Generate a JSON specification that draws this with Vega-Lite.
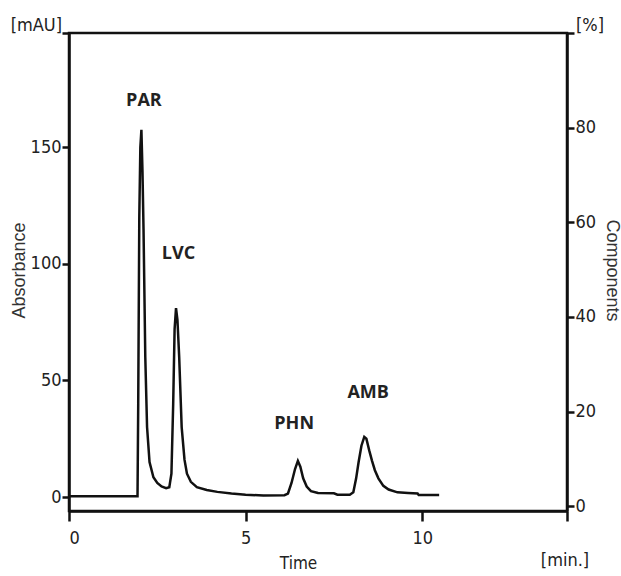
{
  "$schema": "https://vega.github.io/schema/vega-lite/v6.json",
  "width": 498,
  "height": 478,
  "autosize": "none",
  "padding": {"left": 69, "top": 33, "right": 54, "bottom": 65},
  "background": "white",
  "config": {
    "view": {"stroke": "#111", "strokeWidth": 2.5},
    "axis": {
      "grid": false,
      "domainColor": "#111",
      "domainWidth": 2.5,
      "tickColor": "#111",
      "tickWidth": 2.5,
      "labelColor": "#222",
      "labelFont": "DejaVu Sans Condensed, sans-serif",
      "labelFontSize": 18,
      "titleColor": "#333",
      "titleFont": "Liberation Sans, Arial, sans-serif",
      "titleFontWeight": "normal"
    }
  },
  "datasets": {
    "trace": [
      {"time": 0, "absorbance": 0.3},
      {"time": 1.94, "absorbance": 0.3},
      {"time": 1.96, "absorbance": 40},
      {"time": 1.99, "absorbance": 120},
      {"time": 2.02, "absorbance": 150},
      {"time": 2.05, "absorbance": 157.5},
      {"time": 2.08, "absorbance": 140},
      {"time": 2.11, "absorbance": 115},
      {"time": 2.16, "absorbance": 60},
      {"time": 2.21, "absorbance": 30},
      {"time": 2.28, "absorbance": 15},
      {"time": 2.39, "absorbance": 8.5},
      {"time": 2.5, "absorbance": 6},
      {"time": 2.62, "absorbance": 4.5},
      {"time": 2.75, "absorbance": 3.8},
      {"time": 2.84, "absorbance": 4.2},
      {"time": 2.9, "absorbance": 10},
      {"time": 2.95, "absorbance": 40},
      {"time": 2.99, "absorbance": 72},
      {"time": 3.03, "absorbance": 81},
      {"time": 3.07, "absorbance": 76},
      {"time": 3.12, "absorbance": 60},
      {"time": 3.19, "absorbance": 30},
      {"time": 3.27, "absorbance": 16},
      {"time": 3.34, "absorbance": 10},
      {"time": 3.45, "absorbance": 6.5},
      {"time": 3.62, "absorbance": 4.2},
      {"time": 3.9, "absorbance": 3},
      {"time": 4.2, "absorbance": 2.2},
      {"time": 4.6, "absorbance": 1.5},
      {"time": 5.0, "absorbance": 1},
      {"time": 5.5, "absorbance": 0.6},
      {"time": 6.1, "absorbance": 0.8},
      {"time": 6.2, "absorbance": 1.5},
      {"time": 6.3, "absorbance": 6},
      {"time": 6.4, "absorbance": 12},
      {"time": 6.48, "absorbance": 15.5},
      {"time": 6.55, "absorbance": 13},
      {"time": 6.63, "absorbance": 8},
      {"time": 6.73, "absorbance": 4.5},
      {"time": 6.85, "absorbance": 2.5},
      {"time": 7.05, "absorbance": 1.7},
      {"time": 7.5, "absorbance": 1.6},
      {"time": 7.6, "absorbance": 1.0},
      {"time": 7.95, "absorbance": 1.0},
      {"time": 8.05, "absorbance": 2},
      {"time": 8.13, "absorbance": 8},
      {"time": 8.2, "absorbance": 15},
      {"time": 8.28, "absorbance": 22},
      {"time": 8.36, "absorbance": 25.8},
      {"time": 8.42, "absorbance": 25},
      {"time": 8.5, "absorbance": 20},
      {"time": 8.58, "absorbance": 15.5},
      {"time": 8.66, "absorbance": 11.5},
      {"time": 8.76, "absorbance": 8},
      {"time": 8.9, "absorbance": 4.8},
      {"time": 9.05, "absorbance": 3.2},
      {"time": 9.3, "absorbance": 2},
      {"time": 9.6, "absorbance": 1.7},
      {"time": 9.87, "absorbance": 1.5},
      {"time": 9.9, "absorbance": 0.9},
      {"time": 10.48, "absorbance": 0.9}
    ],
    "peaks": [
      {"time": 2.12, "absorbance": 170, "label": "PAR"},
      {"time": 3.1, "absorbance": 104.3, "label": "LVC"},
      {"time": 6.375, "absorbance": 31.5, "label": "PHN"},
      {"time": 8.47, "absorbance": 44.8, "label": "AMB"}
    ]
  },
  "layer": [
    {
      "layer": [
        {
          "data": {"name": "trace"},
          "mark": {"type": "line", "color": "#111", "strokeWidth": 2.5},
          "encoding": {
            "x": {
              "field": "time",
              "type": "quantitative",
              "scale": {"domain": [0, 14.1], "nice": false, "zero": false},
              "axis": {
                "values": [0, 5, 10, 14.1],
                "labelExpr": "datum.value > 12 ? '' : datum.label",
                "tickSize": 10,
                "labelPadding": 8,
                "title": "Time",
                "titleFont": "DejaVu Sans Condensed, sans-serif",
                "titleFontSize": 17,
                "titleColor": "#222",
                "titleX": 229,
                "titleY": 57,
                "titleBaseline": "alphabetic",
                "titleAnchor": "middle"
              }
            },
            "y": {
              "field": "absorbance",
              "type": "quantitative",
              "scale": {"domain": [-6, 199], "nice": false, "zero": false},
              "axis": {
                "orient": "left",
                "values": [0, 50, 100, 150, 199],
                "labelExpr": "datum.value > 160 ? '' : datum.label",
                "tickSize": 7,
                "labelPadding": 1,
                "title": "Absorbance",
                "titleFontSize": 18,
                "titleAngle": -90,
                "titleX": -50,
                "titleY": 237,
                "titleAlign": "center",
                "titleBaseline": "middle"
              }
            }
          }
        },
        {
          "data": {"name": "peaks"},
          "mark": {"type": "text", "font": "Open Sans", "fontWeight": "bold", "fontSize": 18, "color": "#222", "baseline": "middle"},
          "encoding": {
            "x": {"field": "time", "type": "quantitative"},
            "y": {"field": "absorbance", "type": "quantitative"},
            "text": {"field": "label"}
          }
        },
        {
          "data": {"values": [{"time": 0, "absorbance": 199, "label": "[mAU]"}]},
          "mark": {"type": "text", "font": "DejaVu Sans Condensed, sans-serif", "fontSize": 18, "color": "#222", "align": "right", "baseline": "middle", "dx": -7, "dy": -7},
          "encoding": {
            "x": {"field": "time", "type": "quantitative"},
            "y": {"field": "absorbance", "type": "quantitative"},
            "text": {"field": "label"}
          }
        },
        {
          "data": {"values": [{"time": 14.1, "absorbance": -6, "label": "[min.]"}]},
          "mark": {"type": "text", "font": "DejaVu Sans Condensed, sans-serif", "fontSize": 18, "color": "#222", "align": "center", "baseline": "middle", "dx": -2, "dy": 50},
          "encoding": {
            "x": {"field": "time", "type": "quantitative"},
            "y": {"field": "absorbance", "type": "quantitative"},
            "text": {"field": "label"}
          }
        }
      ]
    },
    {
      "data": {"values": [{"time": 14.1, "pct": 100, "label": "[%]"}]},
      "mark": {"type": "text", "font": "DejaVu Sans Condensed, sans-serif", "fontSize": 18, "color": "#222", "align": "left", "baseline": "middle", "dx": 9, "dy": -7},
      "encoding": {
        "x": {"field": "time", "type": "quantitative"},
        "y": {
          "field": "pct",
          "type": "quantitative",
          "scale": {"domain": [-1, 100], "nice": false, "zero": false},
          "axis": {
            "orient": "right",
            "values": [0, 20, 40, 60, 80, 100],
            "labelExpr": "datum.value > 90 ? '' : datum.label",
            "tickSize": 7,
            "labelPadding": 1,
            "title": "Components",
            "titleFontSize": 18,
            "titleAngle": 90,
            "titleX": 44,
            "titleY": 237,
            "titleAlign": "center",
            "titleBaseline": "middle"
          }
        },
        "text": {"field": "label"}
      }
    }
  ],
  "resolve": {"scale": {"y": "independent"}, "axis": {"y": "independent"}}
}
